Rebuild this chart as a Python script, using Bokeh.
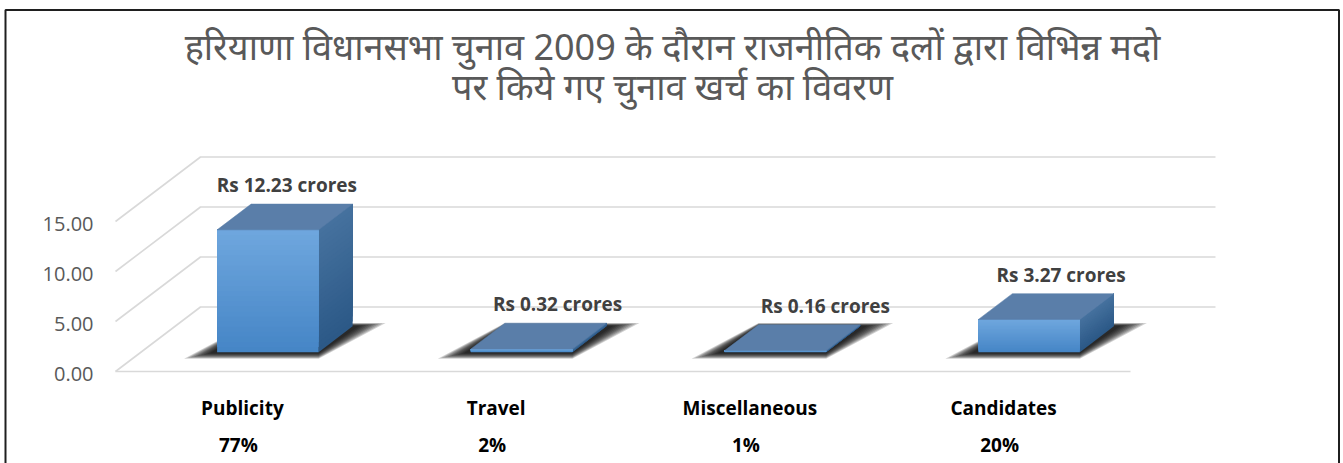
from bokeh.plotting import figure
from bokeh.models import Range1d
from bokeh.embed import file_html
from bokeh.resources import INLINE
from bokeh.core.properties import value

# ---------------- data ----------------
title_lines = [
    "हरियाणा विधानसभा चुनाव 2009 के दौरान राजनीतिक दलों द्वारा विभिन्न मदो",
    "पर किये गए चुनाव खर्च का विवरण",
]
categories = ["Publicity", "Travel", "Miscellaneous", "Candidates"]
amounts = [12.23, 0.32, 0.16, 3.27]
amount_labels = ["Rs 12.23 crores", "Rs 0.32 crores", "Rs 0.16 crores", "Rs 3.27 crores"]
shares = ["77%", "2%", "1%", "20%"]
y_ticks = [0, 5, 10, 15]
y_tick_labels = ["0.00", "5.00", "10.00", "15.00"]

# ---------------- layout constants ----------------
W, H = 1343, 463
X0_PX, PX_PER_CAT = 115.0, 253.75     # floor front-left and category width (px)
Y0_PX, PX_PER_UNIT = 371.0, 10.0      # floor front y (px from top) and px per value unit
DX = 85.0 / PX_PER_CAT                # depth offset in x units
DY = 64.5 / PX_PER_UNIT               # depth offset in y units
BAR_W = 0.4
D0, D1 = 0.3, 0.7                     # bar depth span (fraction of floor depth)
LABEL_NUDGE_PX = [-15, 2, 16, -2]     # manual data-label nudges seen in the original

def fx(px):
    return (px - X0_PX) / PX_PER_CAT

def fy(py):
    return (Y0_PX - py) / PX_PER_UNIT

p = figure(width=W, height=H, output_backend="svg", toolbar_location=None,
           x_range=Range1d(fx(0), fx(W)), y_range=Range1d(fy(H), fy(0)),
           x_axis_location=None, y_axis_location=None, min_border=0,
           background_fill_color="white", border_fill_color="white")
p.grid.visible = False
p.outline_line_color = None

# outer border
p.line([fx(5), fx(5), fx(1338.5), fx(1338.5)], [fy(480), fy(9.5), fy(9.5), fy(480)],
       line_color="#1f1f1f", line_width=2)

# ---------------- walls / gridlines ----------------
ncat = len(categories)
gx, gy = [], []
for t in y_ticks:
    gx.append([0, DX, ncat + DX])
    gy.append([t, t + DY, t + DY])
p.multi_line(gx, gy, line_color="#d9d9d9", line_width=1.6)
p.line([0, ncat], [0, 0], line_color="#d9d9d9", line_width=1.6)

# y tick labels (front plane)
p.text(x=[0] * len(y_ticks), y=y_ticks, text=y_tick_labels, x_offset=-22, y_offset=2,
       text_align="right", text_baseline="middle", text_color="#595959",
       text_font=value("Open Sans"), text_font_size="20px")

# ---------------- bars ----------------
def mix(c1, c2, t):
    a = [int(c1[i:i + 2], 16) for i in (1, 3, 5)]
    b = [int(c2[i:i + 2], 16) for i in (1, 3, 5)]
    return "#%02x%02x%02x" % tuple(round(a[k] + (b[k] - a[k]) * t) for k in range(3))

shadow_x, shadow_y = [], []
front_l, front_r, front_b, front_t, front_c = [], [], [], [], []
side_x, side_y, side_c = [], [], []
top_x, top_y = [], []
lab_x, lab_y = [], []
N = 24
dd = D1 - D0
for i, v in enumerate(amounts):
    xl = i + 0.5 - BAR_W / 2 + D0 * DX
    xr = xl + BAR_W
    yb = D0 * DY
    yt = yb + v
    # blurred shadow on floor (stacked translucent layers)
    for k in range(9):
        f = 1 - k / 9
        e = 0.015 + 0.115 * f
        s = 0.05 + 0.6 * f
        shadow_x.append([xl - e, xr, xr + dd * DX + e, xl + dd * DX])
        shadow_y.append([yb - s, yb - s, yb + dd * DY + s * 0.5, yb + dd * DY + s * 0.5])
    # front face vertical gradient (overlapping slices, drawn bottom to top)
    for j in range(N):
        front_l.append(xl)
        front_r.append(xr)
        front_b.append(yb + v * j / N)
        front_t.append(yt)
        front_c.append(mix("#4585c6", "#6fa7de", (j + 0.5) / N))
    # side face gradient
    for j in range(N):
        y0 = yb + v * j / N
        side_x.append([xr, xr + dd * DX, xr + dd * DX, xr])
        side_y.append([y0, y0 + dd * DY, yt + dd * DY, yt])
        side_c.append(mix("#2b5886", "#46729f", (j + 0.5) / N))
    top_x.append([xl, xr, xr + dd * DX, xl + dd * DX])
    top_y.append([yt, yt, yt + dd * DY, yt + dd * DY])
    lab_x.append((xl + xr) / 2 + dd * DX + LABEL_NUDGE_PX[i] / PX_PER_CAT)
    lab_y.append(yt + dd * DY)

p.patches(shadow_x, shadow_y, fill_color="black", fill_alpha=0.18, line_color=None)
p.patches(side_x, side_y, fill_color=side_c, line_color=None)
p.quad(left=front_l, right=front_r, bottom=front_b, top=front_t,
       fill_color=front_c, line_color=None)
p.patches(top_x, top_y, fill_color="#5a7ea9", line_color="#5a7ea9", line_width=0.5)

# value labels
p.text(x=lab_x, y=lab_y, text=amount_labels, y_offset=-19,
       text_align="center", text_baseline="middle", text_color="#404040",
       text_font=value("Open Sans"), text_font_style="bold", text_font_size="19px")

# category labels and shares
cx = [i + 0.5 for i in range(ncat)]
p.text(x=cx, y=[0] * ncat, text=categories, y_offset=36,
       text_align="center", text_baseline="middle", text_color="black",
       text_font=value("Open Sans"), text_font_style="bold", text_font_size="19px")
p.text(x=cx, y=[0] * ncat, text=shares, x_offset=-4, y_offset=73,
       text_align="center", text_baseline="middle", text_color="black",
       text_font=value("Open Sans"), text_font_style="bold", text_font_size="19px")

# title
p.text(x=[fx(672), fx(672)], y=[fy(46), fy(86)], text=title_lines,
       text_align="center", text_baseline="middle", text_color="#595959",
       text_font=value("Noto Sans"), text_font_size="36px")

open("out.html", "w").write(file_html(p, INLINE))
